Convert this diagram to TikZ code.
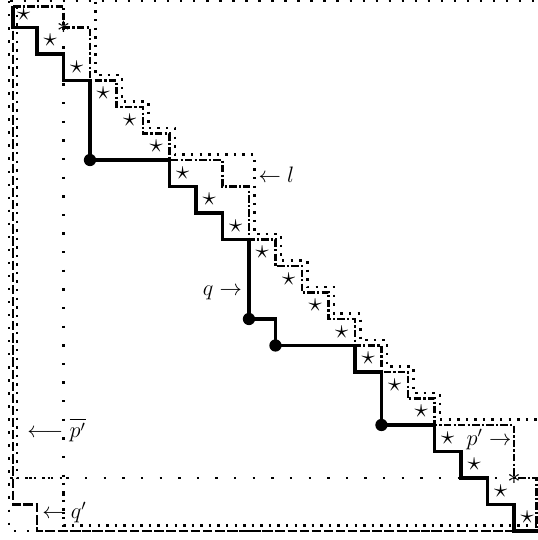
\documentclass[tikz,border=0pt]{standalone}
\usepackage{amssymb}
\begin{document}
\begin{tikzpicture}[x=0.5cm,y=-0.5cm,
  qline/.style={line width=1.8pt},
  pline/.style={line width=1.4pt, dash pattern=on 4pt off 1.2pt on 1.2pt off 1.2pt},
  qpline/.style={line width=1.4pt, dash pattern=on 5pt off 1.5pt},
  lline/.style={line width=1.3pt, dash pattern=on 1.3pt off 3.3pt},
  sparseline/.style={line width=1.3pt, dash pattern=on 1.3pt off 5.7pt},
  vsparseline/.style={line width=1.3pt, dash pattern=on 1.3pt off 8.7pt},
  dotnode/.style={fill, circle, inner sep=0pt, minimum size=6.6pt},
  starnode/.style={inner sep=0pt, font=\Large},
  lab/.style={inner sep=0pt, font=\large}]
\useasboundingbox (-0.396,-0.038) rectangle (19.906,20.34);
% extreme paths (loosely dotted)
\draw[sparseline] (-0.05,0) -- (-0.05,20) -- (20,20);
\draw[sparseline] (0,0) -- (20,0) -- (20,20);
% rays from the marked points
\draw[vsparseline] (2,1) -- (2,20);
\draw[vsparseline] (0,18) -- (19,18);
% path l (dotted, shifted)
\begin{scope}[shift={(0.2,-0.2)}]
\draw[lline] (0,0) -- (3,0) -- (3,3) -- (4,3) -- (4,4) -- (5,4) -- (5,5) -- (6,5) -- (6,6)
  -- (9,6) -- (9,9) -- (10,9) -- (10,10) -- (11,10) -- (11,11) -- (12,11) -- (12,12)
  -- (13,12) -- (13,13) -- (14,13) -- (14,14) -- (15,14) -- (15,15) -- (16,15) -- (16,16)
  -- (20,16) -- (20,20);
\end{scope}
% path p'
\draw[pline] (0.1,0.2) -- (2,0.2) -- (2,1) -- (3,1) -- (3,3) -- (4,3) -- (4,4) -- (5,4) -- (5,5)
  -- (6,5) -- (6,6) -- (8,6) -- (8,7) -- (9,7) -- (9,9) -- (10,9) -- (10,10) -- (11,10)
  -- (11,11) -- (12,11) -- (12,12) -- (13,12) -- (13,13) -- (14,13) -- (14,14) -- (15,14)
  -- (15,15) -- (16,15) -- (16,16) -- (19,16) -- (19,18) -- (19.85,18) -- (19.85,20);
% path q'
\draw[qpline] (0.1,0.2) -- (0.1,19) -- (1,19) -- (1,20) -- (20,20);
% path overline p'
\draw[lline] (0.25,0.2) -- (0.25,18) -- (2,18) -- (2,19.8) -- (20,19.8);
% path q
\draw[qline] (0.1,0.2) -- (0.1,1) -- (1,1) -- (1,2) -- (2,2) -- (2,3) -- (3,3) -- (3,6)
  -- (6,6) -- (6,7) -- (7,7) -- (7,8) -- (8,8) -- (8,9) -- (9,9) -- (9,12) -- (10,12)
  -- (10,13) -- (13,13) -- (13,14) -- (14,14) -- (14,16) -- (16,16) -- (16,17) -- (17,17)
  -- (17,18) -- (18,18) -- (18,19) -- (19,19) -- (19,20) -- (20,20);
\node[dotnode] (d1) at (3,6) {};
\node[dotnode] (d2) at (9,12) {};
\node[dotnode] (d3) at (10,13) {};
\node[dotnode] (d4) at (14,16) {};
% stars on the diagonal
\foreach \k in {0,...,19} \node[starnode] (s\k) at (\k+0.5,\k+0.5) {$\star$};
\node[starnode] (a1) at (2,1) {$\ast$};
\node[starnode] (a2) at (19,18) {$\ast$};
% labels
\node[lab, anchor=west] (ll) at (9.35,6.57) {$\leftarrow l$};
\node[lab, anchor=east] (lq) at (8.75,11.0) {$q \rightarrow$};
\node[lab, anchor=east] (lp) at (18.92,16.55) {$p' \rightarrow$};
\node[lab, anchor=west] (lpb) at (0.62,16.2) {$\longleftarrow \overline{p'}$};
\node[lab, anchor=west] (lqp) at (1.19,19.3) {$\leftarrow q'$};
\end{tikzpicture}
\end{document}
